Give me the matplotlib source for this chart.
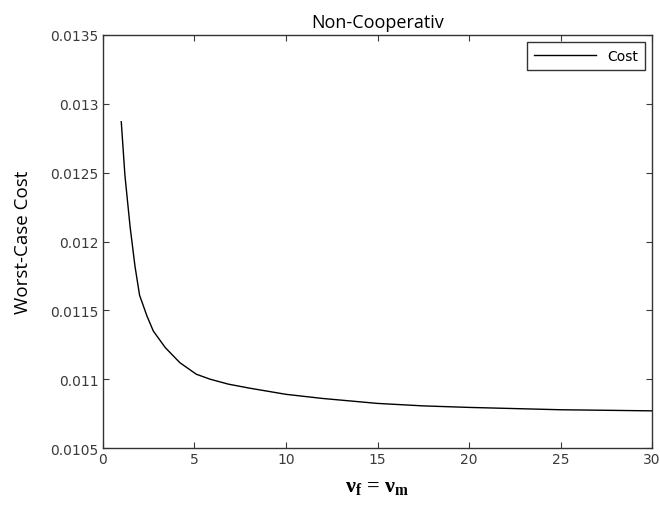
import matplotlib
matplotlib.use("Agg")
import matplotlib.pyplot as plt
from matplotlib.ticker import FuncFormatter

# values
nu = [1.0, 1.2, 1.48, 1.75, 2.0, 2.4, 2.75, 3.4, 4.2, 5.1, 5.85, 6.85,
      8.0, 10.0, 12.0, 15.0, 17.5, 20.0, 25.0, 30.0]
cost = [0.01287, 0.01248, 0.01211, 0.01182, 0.01161, 0.01146, 0.01135,
        0.01123, 0.01112, 0.011036, 0.01100, 0.010964, 0.010935, 0.01089,
        0.01086, 0.010824, 0.010806, 0.010795, 0.010778, 0.01077]

x_ticks = [0, 5, 10, 15, 20, 25, 30]
y_ticks = [0.0105, 0.011, 0.0115, 0.012, 0.0125, 0.013, 0.0135]

# bold serif for the x label
plt.rcParams["mathtext.fontset"] = "custom"
plt.rcParams["mathtext.bf"] = "Liberation Serif:bold"
plt.rcParams["mathtext.rm"] = "Liberation Serif:bold"

fig = plt.figure(figsize=(6.6, 5.06), dpi=100)
ax = fig.add_axes([0.156, 0.1126, 0.832, 0.8163])

ax.plot(nu, cost, color="black", linewidth=1.0, label="Cost")

ax.set_xlim(0, 30)
ax.set_ylim(0.0105, 0.0135)
ax.set_xticks(x_ticks)
ax.set_yticks(y_ticks)
ax.yaxis.set_major_formatter(FuncFormatter(lambda v, p: f"{v:g}"))
ax.tick_params(direction="in", top=True, right=True, length=4, width=0.8,
               labelsize=10, colors="#3a3a3a", labelcolor="#3a3a3a", pad=3)
for sp in ax.spines.values():
    sp.set_color("#333333")
    sp.set_linewidth(1.0)

ax.set_title("Non-Cooperativ", fontfamily="Open Sans", fontsize=13, pad=6)
ax.set_ylabel("Worst-Case Cost", fontfamily="Open Sans", fontsize=13.5, labelpad=13)
ax.set_xlabel(r"$\mathbf{\nu_f}$ = $\mathbf{\nu_m}$", fontsize=16,
              fontfamily="Liberation Serif", fontweight="bold", labelpad=7)

leg = ax.legend(loc="upper right", fancybox=False, edgecolor="#333333",
                framealpha=1, handlelength=4.5, borderaxespad=0.5,
                borderpad=0.5, prop={"size": 10})
leg.get_frame().set_linewidth(1.0)

fig.savefig("out.png", dpi=100)
